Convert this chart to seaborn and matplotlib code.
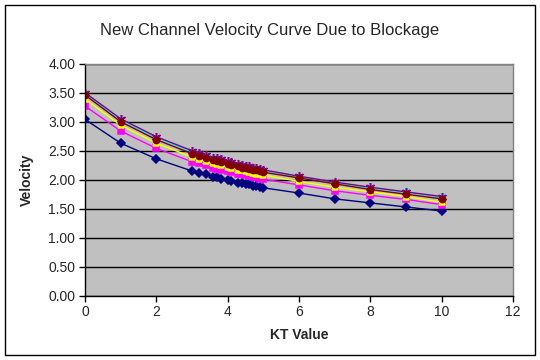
import numpy as np
import pandas as pd
import matplotlib
matplotlib.use("Agg")
import matplotlib.pyplot as plt
import seaborn as sns
from matplotlib.patches import Rectangle

# KT values shared by all series
kt = [0, 1, 2, 3, 3.2, 3.4, 3.6, 3.7, 3.8, 4.0, 4.1, 4.3, 4.4, 4.5, 4.6,
      4.7, 4.8, 4.9, 5.0, 6, 7, 8, 9, 10]

# velocities, one list per series
series1 = [3.04, 2.63, 2.36, 2.15, 2.12, 2.09, 2.05, 2.04, 2.02, 2.00, 1.98, 1.95,
           1.94, 1.93, 1.92, 1.90, 1.89, 1.88, 1.86, 1.77, 1.67, 1.60, 1.53, 1.46]
series2 = [3.27, 2.84, 2.54, 2.31, 2.28, 2.25, 2.21, 2.19, 2.17, 2.15, 2.13, 2.10,
           2.09, 2.08, 2.06, 2.05, 2.04, 2.02, 2.01, 1.91, 1.81, 1.73, 1.66, 1.57]
series3 = [3.39, 2.94, 2.63, 2.39, 2.35, 2.32, 2.28, 2.27, 2.25, 2.22, 2.20, 2.17,
           2.16, 2.15, 2.13, 2.12, 2.10, 2.09, 2.08, 1.97, 1.87, 1.79, 1.71, 1.61]
series4 = [3.48, 3.03, 2.72, 2.48, 2.44, 2.40, 2.37, 2.35, 2.33, 2.30, 2.28, 2.25,
           2.24, 2.22, 2.21, 2.20, 2.18, 2.17, 2.16, 2.05, 1.95, 1.86, 1.78, 1.70]
series5 = [3.50, 3.05, 2.74, 2.50, 2.46, 2.42, 2.38, 2.37, 2.35, 2.32, 2.30, 2.27,
           2.26, 2.24, 2.23, 2.21, 2.20, 2.19, 2.17, 2.06, 1.96, 1.87, 1.79, 1.71]
series6 = [3.46, 3.00, 2.69, 2.45, 2.41, 2.38, 2.34, 2.32, 2.30, 2.27, 2.26, 2.23,
           2.21, 2.20, 2.19, 2.17, 2.16, 2.15, 2.13, 2.03, 1.93, 1.83, 1.75, 1.67]

names = ["Series1", "Series2", "Series3", "Series4", "Series5", "Series6"]
values = [series1, series2, series3, series4, series5, series6]

df = pd.concat(
    [pd.DataFrame({"kt": kt, "velocity": v, "series": n}) for n, v in zip(names, values)],
    ignore_index=True,
)

colors  = ["#000080", "#FF00FF", "#FFFF00", "#00FFFF", "#800080", "#800000"]
markers = ["D", "s", "^", "x", (6, 2, 0), "o"]
msizes  = [4, 4.5, 4.5, 4.5, 6.5, 4.5]

sns.set_style("white")
plt.rcParams["font.family"] = ["Liberation Sans", "DejaVu Sans"]

fig = plt.figure(figsize=(5.4, 3.6), dpi=100)
ax = fig.add_axes([85 / 540, 1 - 295.7 / 360, 428 / 540, 232 / 360])
ax.set_facecolor("#C0C0C0")

for name, c, m, ms in zip(names, colors, markers, msizes):
    sns.lineplot(
        data=df[df["series"] == name], x="kt", y="velocity",
        estimator=None, sort=False, ax=ax, color=c, linewidth=1,
        marker=m, markersize=ms, markeredgecolor=c, markerfacecolor=c,
        markeredgewidth=1.1, legend=False,
    )

ax.set_xlim(0, 12)
ax.set_ylim(0, 4)
ax.set_xticks(np.arange(0, 13, 2))
ax.set_yticks(np.arange(0, 4.01, 0.5))
ax.set_yticklabels([f"{t:.2f}" for t in np.arange(0, 4.01, 0.5)])
ax.yaxis.grid(True, color="black", linewidth=1)
ax.set_axisbelow(True)
ax.tick_params(axis="both", direction="out", length=4, width=1, color="black",
               labelsize=10, pad=3, left=True, bottom=True)
for side in ["left", "bottom"]:
    ax.spines[side].set_color("black")
    ax.spines[side].set_linewidth(1)
for side in ["top", "right"]:
    ax.spines[side].set_color("#808080")
    ax.spines[side].set_linewidth(1)

ax.set_xlabel("KT Value", fontsize=10, fontweight="bold", labelpad=6)
ax.set_ylabel("Velocity", fontsize=10, fontweight="bold", labelpad=10)
fig.text(0.5, 1 - 31 / 360, "New Channel Velocity Curve Due to Blockage",
         ha="center", va="center", fontsize=12)

fig.patches.append(Rectangle((5 / 540, 5 / 360), 530 / 540, 350 / 360,
                             transform=fig.transFigure, fill=False,
                             edgecolor="black", linewidth=1))

fig.savefig("out.png", dpi=100)
